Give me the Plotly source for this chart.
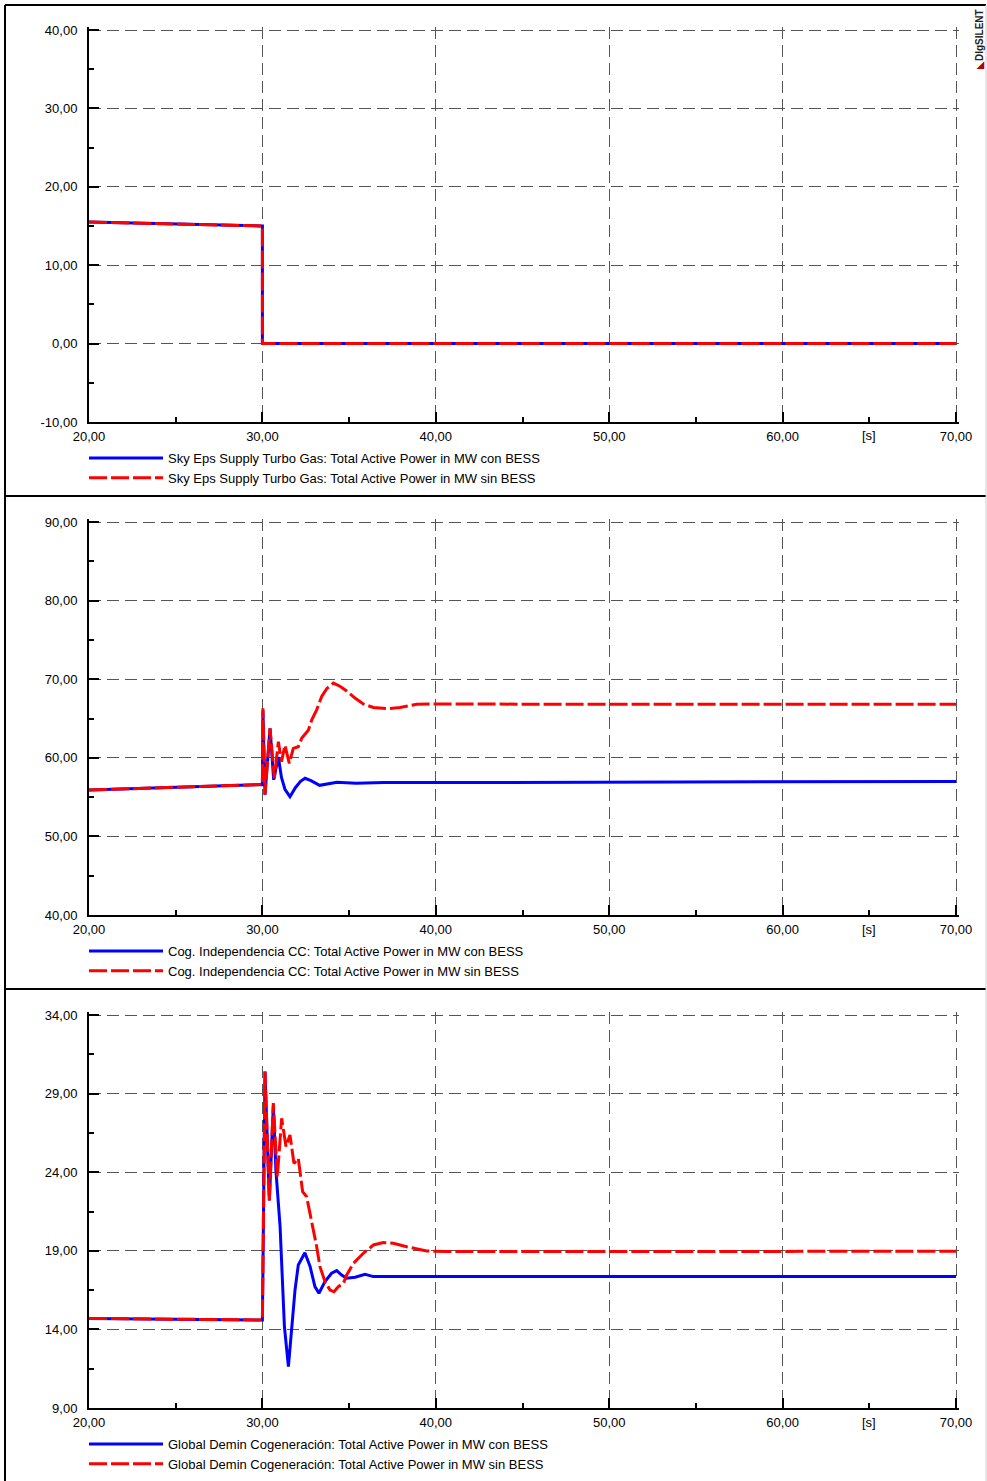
import plotly.graph_objects as go

# ---------------- data ----------------
# Panel 1: Sky Eps Supply Turbo Gas
t_p1 = [20.0, 30.0, 30.0, 70.0]
p1_con = [15.5, 15.0, 0.0, 0.0]
p1_sin = [15.5, 15.0, 0.0, 0.0]

# Panel 2: Cog. Independencia CC
t_p2_con = [20.0, 30.0, 30.03, 30.15, 30.44, 30.65, 30.92, 31.1, 31.3, 31.59, 31.9, 32.2,
            32.46, 32.8, 33.3, 33.8, 34.3, 35.4, 37.0, 40.0, 50.0, 60.0, 70.0]
p2_con = [55.9, 56.6, 66.0, 55.3, 63.75, 57.2, 60.1, 57.5, 56.0, 55.05, 56.2, 57.0,
          57.4, 57.1, 56.5, 56.7, 56.9, 56.75, 56.85, 56.85, 56.9, 56.95, 57.0]
t_p2_sin = [20.0, 30.0, 30.03, 30.15, 30.44, 30.69, 30.92, 31.1, 31.3, 31.55, 31.78, 32.07,
            32.27, 32.65, 32.84, 33.13, 33.42, 33.71, 34.09, 34.47, 34.86, 35.34, 35.82,
            36.4, 37.17, 37.94, 38.9, 40.05, 50.0, 60.0, 70.0]
p2_sin = [55.9, 56.6, 66.3, 55.3, 63.75, 57.4, 62.05, 59.5, 61.6, 59.3, 61.2, 61.4,
          62.5, 63.5, 64.8, 66.1, 67.8, 68.8, 69.5, 69.1, 68.5, 67.6, 66.85,
          66.4, 66.25, 66.4, 66.8, 66.85, 66.8, 66.8, 66.8]

# Panel 3: Global Demin Cogeneración
t_p3_con = [20.0, 30.0, 30.15, 30.4, 30.63, 30.78, 31.02, 31.15, 31.27, 31.5, 31.69, 31.88,
            32.07, 32.45, 32.75, 33.03, 33.26, 33.61, 33.99, 34.28, 34.57, 34.86, 35.35,
            35.92, 36.4, 40.0, 50.0, 70.0]
p3_con = [14.7, 14.6, 30.4, 22.2, 28.2, 24.1, 20.53, 17.35, 14.17, 11.63, 14.17, 16.5,
          18.1, 18.88, 18.0, 16.72, 16.3, 17.04, 17.57, 17.74, 17.46, 17.25, 17.32,
          17.51, 17.36, 17.36, 17.36, 17.36]
t_p3_sin = [20.0, 30.0, 30.15, 30.4, 30.63, 30.86, 31.11, 31.36, 31.59, 31.82, 32.07, 32.32,
            32.55, 32.84, 33.13, 33.32, 33.61, 33.9, 34.13, 34.38, 34.67, 34.86, 35.25,
            35.82, 36.4, 36.97, 37.55, 38.32, 39.47, 40.62, 50.0, 70.0]
p3_sin = [14.7, 14.6, 30.4, 22.2, 28.4, 23.7, 27.43, 25.63, 26.37, 24.56, 24.88, 22.76,
          22.44, 20.96, 19.26, 17.99, 17.04, 16.5, 16.4, 16.72, 16.93, 17.46, 18.2,
          18.84, 19.37, 19.52, 19.48, 19.26, 18.99, 18.95, 18.95, 18.97]

names_p1 = ["Sky Eps Supply Turbo Gas: Total Active Power in MW con BESS",
            "Sky Eps Supply Turbo Gas: Total Active Power in MW sin BESS"]
names_p2 = ["Cog. Independencia CC: Total Active Power in MW con BESS",
            "Cog. Independencia CC: Total Active Power in MW sin BESS"]
names_p3 = ["Global Demin Cogeneración: Total Active Power in MW con BESS",
            "Global Demin Cogeneración: Total Active Power in MW sin BESS"]

# tick values
x_ticks = [20, 30, 40, 50, 60, 70]
y_ticks_p1 = [-10, 0, 10, 20, 30, 40]
y_ticks_p2 = [40, 50, 60, 70, 80, 90]
y_ticks_p3 = [9, 14, 19, 24, 29, 34]
x_unit = "[s]"
x_unit_pos = 65


def fmt(v):
    return f"{v:.2f}".replace(".", ",")


# ---------------- layout geometry (pixels) ----------------
W, H = 987, 1481
X0_PX, X1_PX = 89, 956
panels_px = [(30, 422), (522, 915), (1015, 1408)]
legend_top_px = [443, 936, 1429]
PAD = 3  # px beyond last gridline so edge gridlines are drawn

FONT = "Arial, 'Liberation Sans', sans-serif"
BLUE = "#0000FF"
RED = "#FF0000"
TICK_SIZE = 13
LEG_SIZE = 13

fig = go.Figure()

series = [
    (t_p1, p1_con, t_p1, p1_sin, names_p1, y_ticks_p1),
    (t_p2_con, p2_con, t_p2_sin, p2_sin, names_p2, y_ticks_p2),
    (t_p3_con, p3_con, t_p3_sin, p3_sin, names_p3, y_ticks_p3),
]

for i, (tc, vc, ts, vs, nm, _) in enumerate(series):
    suf = "" if i == 0 else str(i + 1)
    leg = "legend" + suf
    fig.add_trace(go.Scatter(x=tc, y=vc, mode="lines", name=nm[0],
                             line=dict(color=BLUE, width=3),
                             xaxis="x" + suf, yaxis="y" + suf, legend=leg))
    fig.add_trace(go.Scatter(x=ts, y=vs, mode="lines", name=nm[1],
                             line=dict(color=RED, width=3, dash="18px,4px"),
                             xaxis="x" + suf, yaxis="y" + suf, legend=leg))

x_ppu = (X1_PX - X0_PX) / (x_ticks[-1] - x_ticks[0])
x_dom = [X0_PX / W, (X1_PX + PAD) / W]

layout = dict(
    width=W, height=H, autosize=False,
    margin=dict(l=0, r=0, t=0, b=0, pad=0, autoexpand=False),
    paper_bgcolor="white", plot_bgcolor="white",
    font=dict(family=FONT, size=12, color="black"),
    showlegend=True,
)

axis_common = dict(
    showline=True, linecolor="black", linewidth=2,
    ticks="inside", ticklen=10, tickwidth=1.5, tickcolor="black",
    showgrid=True, gridcolor="#555555", gridwidth=1, griddash="12px,6px",
    zeroline=False, automargin=False, fixedrange=True,
    tickfont=dict(family=FONT, size=TICK_SIZE, color="black"),
)

for i, ((top, bot), ser) in enumerate(zip(panels_px, series)):
    yt = ser[5]
    suf = "" if i == 0 else str(i + 1)
    y0, y1 = yt[0], yt[-1]
    dy = yt[1] - yt[0]
    y_ppu = (bot - top) / (y1 - y0)
    layout["xaxis" + suf] = dict(
        domain=x_dom, anchor="y" + suf,
        range=[x_ticks[0], x_ticks[-1] + PAD / x_ppu],
        tickmode="array", tickvals=x_ticks, ticktext=[fmt(v) for v in x_ticks],
        ticklabelstandoff=1,
        minor=dict(ticks="inside", ticklen=5, tickwidth=1.5, tickcolor="black",
                   tickmode="linear", tick0=x_ticks[0], dtick=(x_ticks[1] - x_ticks[0]) / 2,
                   showgrid=False),
        **axis_common,
    )
    layout["yaxis" + suf] = dict(
        domain=[1 - bot / H, 1 - (top - PAD) / H], anchor="x" + suf,
        range=[y0, y1 + PAD / y_ppu],
        tickmode="array", tickvals=yt, ticktext=[fmt(v) for v in yt],
        ticklabelstandoff=7,
        minor=dict(ticks="inside", ticklen=5, tickwidth=1.5, tickcolor="black",
                   tickmode="linear", tick0=y0, dtick=dy / 2, showgrid=False),
        **axis_common,
    )
    layout["legend" + suf] = dict(
        x=84 / W, y=1 - legend_top_px[i] / H, xanchor="left", yanchor="top",
        font=dict(family=FONT, size=LEG_SIZE, color="black"),
        bgcolor="rgba(0,0,0,0)", tracegroupgap=0, itemwidth=74,
        traceorder="normal",
    )

fig.update_layout(**layout)

# "[s]" unit label at the 65 s position of each x axis
for i, (top, bot) in enumerate(panels_px):
    suf = "" if i == 0 else str(i + 1)
    fig.add_annotation(x=x_unit_pos, y=1 - (bot + 14) / H, xref="x" + suf, yref="paper",
                       text=x_unit, showarrow=False, yanchor="middle",
                       font=dict(family=FONT, size=TICK_SIZE, color="black"))

# frame and panel separators
frame = dict(type="line", xref="paper", yref="paper", line=dict(color="black", width=2))
fig.add_shape(x0=5 / W, x1=986 / W, y0=1 - 5 / H, y1=1 - 5 / H, **frame)
fig.add_shape(x0=5 / W, x1=5 / W, y0=1 - 5 / H, y1=0, **frame)
fig.add_shape(x0=5 / W, x1=986 / W, y0=1 - 496 / H, y1=1 - 496 / H, **frame)
fig.add_shape(x0=5 / W, x1=986 / W, y0=1 - 989 / H, y1=1 - 989 / H, **frame)
fig.add_shape(type="line", xref="paper", yref="paper", x0=986 / W, x1=986 / W,
              y0=1 - 5 / H, y1=0, line=dict(color="#cccccc", width=1))

# DIgSILENT logo
fig.add_annotation(x=980 / W, y=1 - 7 / H, xref="paper", yref="paper",
                   xanchor="center", yanchor="top",
                   text="<span style='color:#b00000'>◣</span><b>DIgSILENT</b>",
                   textangle=-90, showarrow=False,
                   font=dict(family=FONT, size=10, color="#222222"))

fig.write_html(
    "out.html",
    config={"displayModeBar": False},
    post_script="document.body.style.margin='0';document.body.style.overflow='hidden';",
)
